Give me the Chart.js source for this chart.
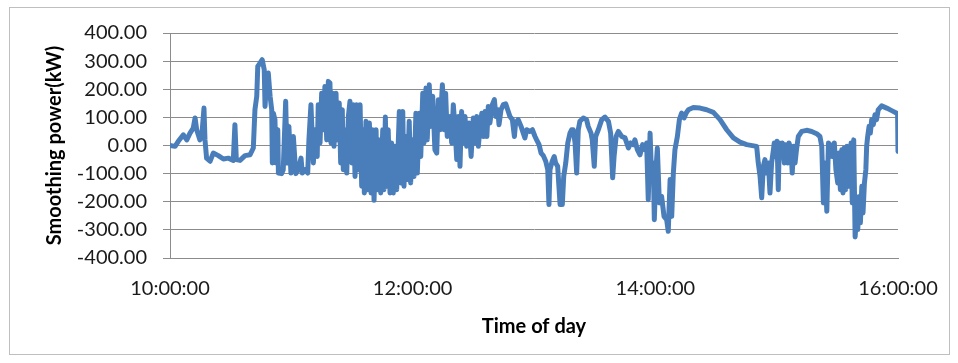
<!DOCTYPE html>
<html>
<head>
<meta charset="utf-8">
<script src="https://cdn.jsdelivr.net/npm/chart.js"></script>
<style>
  html, body { margin: 0; padding: 0; background: #ffffff; }
  #wrap { width: 958px; height: 363px; }
</style>
</head>
<body>
<div id="wrap"><canvas id="chart" width="958" height="363"></canvas></div>
<script>
// Minutes after 10:00:00 for each sample
const minutes = [
  0, 2.5, 4.1, 6.6, 8.3, 9.9, 11.5, 12.4, 13.2, 14.8,
  15.7, 16.8, 17.3, 18.1, 19.8, 21.4, 23.9, 26.4, 28.8, 31.3,
  32.1, 32.8, 34.6, 37.1, 39.6, 41.2, 42.0, 42.9, 43.4, 44.5,
  45.6, 46.6, 47.0, 47.8, 48.6, 49.5, 50.3, 50.6, 51.1, 51.9,
  52.4, 53.3, 53.6, 55.2, 56.0, 57.2, 57.9, 58.8, 59.8, 61.0,
  62.2, 63.4, 64.8, 65.4, 66.8, 68.1, 68.7, 69.7, 70.4, 70.9,
  71.7, 72.8, 73.3, 74.2, 75.0, 75.8, 76.6, 77.5, 78.3, 79.1,
  79.6, 80.5, 81.1, 82.1, 82.7, 83.7, 84.4, 85.2, 85.7, 86.5,
  87.4, 88.2, 89.0, 89.9, 90.7, 91.5, 92.3, 93.1, 94.0, 94.8,
  95.6, 96.1, 96.9, 97.6, 98.6, 99.4, 100.2, 100.9, 101.9, 102.5,
  103.5, 104.2, 105.2, 105.8, 106.5, 107.2, 107.9, 108.8, 109.6, 110.4,
  111.3, 112.1, 113.4, 114.1, 115.1, 115.7, 116.7, 117.4, 118.3, 119.0,
  120.0, 120.7, 121.6, 122.3, 123.3, 124.0, 125.0, 125.6, 126.6, 127.2,
  128.2, 128.9, 129.9, 131.0, 131.9, 132.7, 133.5, 134.7, 135.5, 136.3,
  137.1, 138.5, 139.3, 140.1, 141.0, 141.8, 142.6, 143.4, 144.2, 145.0,
  145.9, 146.7, 147.9, 148.9, 150.0, 150.8, 151.7, 152.5, 153.3, 154.2,
  155.0, 155.8, 156.7, 157.4, 158.2, 159.4, 160.4, 161.2, 162.1, 162.7,
  163.7, 164.8, 166.0, 167.0, 168.1, 169.3, 170.3, 170.9, 172.2, 173.6,
  174.7, 175.5, 176.4, 178.0, 179.2, 180.5, 181.3, 182.5, 183.5, 184.6,
  185.8, 186.8, 187.4, 187.9, 189.0, 190.0, 190.7, 191.7, 192.9, 194.0,
  194.7, 195.7, 196.7, 197.8, 198.6, 199.4, 200.3, 201.1, 201.9, 202.7,
  204.4, 206.0, 206.8, 208.2, 208.8, 209.8, 210.5, 211.8, 213.5, 215.1,
  216.8, 217.9, 218.9, 219.6, 220.6, 221.7, 223.4, 225.0, 226.7, 227.8,
  229.1, 229.9, 231.1, 232.4, 233.7, 234.9, 235.7, 236.5, 237.4, 238.2,
  239.0, 239.5, 240.3, 241.0, 242.0, 243.1, 244.3, 245.6, 246.4, 247.3,
  248.1, 248.9, 249.7, 250.9, 251.9, 253.0, 254.2, 255.2, 256.3, 258.8,
  262.1, 265.4, 268.7, 272.0, 275.3, 278.6, 281.9, 285.2, 290.1, 290.9,
  291.8, 292.6, 293.4, 294.2, 295.1, 295.9, 296.7, 297.5, 298.4, 298.8,
  299.5, 300.2, 300.8, 301.3, 302.2, 302.8, 303.8, 304.5, 305.5, 306.1,
  307.1, 307.7, 308.4, 309.1, 309.9, 310.7, 312.4, 314.8, 317.3, 319.8,
  321.4, 322.3, 323.1, 323.9, 324.8, 325.6, 326.4, 327.5, 328.5, 329.3,
  330.2, 330.8, 331.5, 332.2, 332.8, 333.4, 334.1, 334.8, 335.4, 336.1,
  336.8, 337.4, 338.1, 338.8, 339.5, 340.1, 340.8, 341.4, 342.1, 342.7,
  343.4, 344.1, 344.5, 345.0, 345.7, 346.3, 347.0, 347.8, 348.6, 349.4,
  350.2, 351.9, 354.4, 356.9, 359.4, 359.8, 360
];

// Smoothing power in kW at each sample
const power = [
  0, -3, 15, 38, 20, 44, 62, 98, 56, 20,
  32, 133, 20, -45, -56, -27, -36, -48, -45, -53,
  74, -50, -53, -36, -33, -9, 127, 175, 281, 293,
  305, 269, 139, 234, 258, 175, 127, -62, 115, 92,
  -62, 56, -98, -100, -86, 157, -62, 68, -98, 32,
  -100, -86, -45, -98, -86, -98, 20, 145, 20, -62,
  56, -39, 145, 9, 186, 56, 210, 20, 228, 222,
  9, 186, -3, 186, 20, 151, -62, 127, -86, 56,
  -98, 103, 157, -62, 145, -110, 145, -86, 145, -145,
  56, -169, 86, -157, 80, -169, 56, -195, 56, -157,
  20, -169, 56, -157, 101, -145, 56, -169, 9, -169,
  -3, -157, 121, -133, 121, -145, 32, -121, 86, -133,
  20, -110, 115, -98, 115, -39, 186, 9, 204, 20,
  216, 68, 175, -15, -27, 163, 56, 216, 56, 186,
  32, 103, 9, 145, 56, -50, 103, -74, 121, 9,
  103, -3, 80, -39, 98, 9, 103, -3, 68, 115,
  32, 121, 32, 139, 80, 145, 163, 103, 127, 74,
  127, 145, 148, 127, 103, 92, 32, 80, 92, 68,
  44, 27, 56, 50, 56, 32, 20, 3, -27, -36,
  -56, -86, -210, -86, -56, -39, -62, -74, -210, -210,
  -110, -62, 9, 44, 56, 56, 9, -98, 56, 86,
  98, 92, 68, 44, 20, -74, 32, 56, 92, 101,
  86, 44, -115, -39, 32, 50, 32, 27, -9, 9,
  3, 20, -15, -33, 3, -15, 9, -193, 44, -121,
  -62, -264, -86, -9, -204, -181, -252, -264, -305, -121,
  -252, -98, -15, 32, 92, 115, 98, 115, 127, 135,
  133, 127, 118, 92, 56, 27, 12, 3, -3, -62,
  -110, -186, -74, -50, -98, -62, -169, -62, -15, 9,
  -39, 15, -157, 9, -39, 9, -62, 3, -62, 9,
  -15, -98, -3, -62, -9, 32, 50, 54, 50, 42,
  32, -3, -204, -62, -234, 9, 3, -39, 9, -86,
  -133, -27, -157, -15, -169, -9, -157, -3, -145, -62,
  9, -204, 20, -325, -252, -299, -181, -275, -145, -240,
  -133, -86, -3, 32, 68, 44, 92, 74, 109, 92,
  127, 141, 133, 124, 115, 110, -21
];

// Axis range and tick spacing
const xMin = 0, xMax = 360, xStep = 120;   // minutes after 10:00:00
const yMin = -400, yMax = 400, yStep = 100; // kW

const startHour = 10;
function clockLabel(m) {
  const total = Math.round(m * 60);
  const h = startHour + Math.floor(total / 3600);
  const mm = Math.floor((total % 3600) / 60);
  const ss = total % 60;
  const p = n => String(n).padStart(2, '0');
  return h + ':' + p(mm) + ':' + p(ss);
}

const points = minutes.map((m, i) => ({ x: m, y: power[i] }));

// Thin frame round the whole chart
const framePlugin = {
  id: 'frame',
  afterDraw(chart) {
    const ctx = chart.ctx;
    ctx.save();
    ctx.strokeStyle = '#bfbfbf';
    ctx.lineWidth = 1;
    ctx.strokeRect(9.5, 7.5, 940, 347);
    ctx.restore();
  }
};

const tickFont = { family: 'Lato', size: 20 };
const titleFont = { family: 'Lato', size: 20, weight: 'bold' };

new Chart(document.getElementById('chart'), {
  type: 'line',
  data: {
    datasets: [{
      data: points,
      borderColor: '#4a7ebb',
      borderWidth: 5,
      borderJoinStyle: 'round',
      borderCapStyle: 'round',
      pointRadius: 0,
      tension: 0,
      fill: false
    }]
  },
  plugins: [framePlugin],
  options: {
    responsive: false,
    animation: false,
    layout: { padding: { left: 10, top: 33, right: 60, bottom: 0 } },
    plugins: {
      legend: { display: false },
      tooltip: { enabled: false }
    },
    scales: {
      x: {
        type: 'linear',
        min: xMin,
        max: xMax,
        afterFit(scale) { scale.height = 105; },
        afterBuildTicks(scale) {
          const t = [];
          for (let v = xMin; v <= xMax; v += xStep) t.push({ value: v });
          scale.ticks = t;
        },
        ticks: {
          callback: v => clockLabel(v),
          font: tickFont,
          color: '#1a1a1a',
          padding: 19,
          maxRotation: 0,
          autoSkip: false
        },
        grid: { display: false, drawTicks: false },
        border: { display: true, color: '#8c8c8c', width: 1 },
        title: {
          display: true,
          text: 'Time of day',
          font: titleFont,
          color: '#000000',
          padding: { top: 0, bottom: 24 }
        }
      },
      y: {
        min: yMin,
        max: yMax,
        afterFit(scale) { scale.width = 160; },
        ticks: {
          stepSize: yStep,
          callback: v => Number(v).toFixed(2),
          font: tickFont,
          color: '#1a1a1a',
          padding: 16
        },
        grid: {
          color: '#8c8c8c',
          lineWidth: 1,
          drawTicks: true,
          tickLength: 7
        },
        border: { display: true, color: '#8c8c8c', width: 1 },
        title: {
          display: true,
          text: 'Smoothing power(kW)',
          font: titleFont,
          color: '#000000',
          padding: { top: 33, bottom: 0 }
        }
      }
    }
  }
});
</script>
</body>
</html>
